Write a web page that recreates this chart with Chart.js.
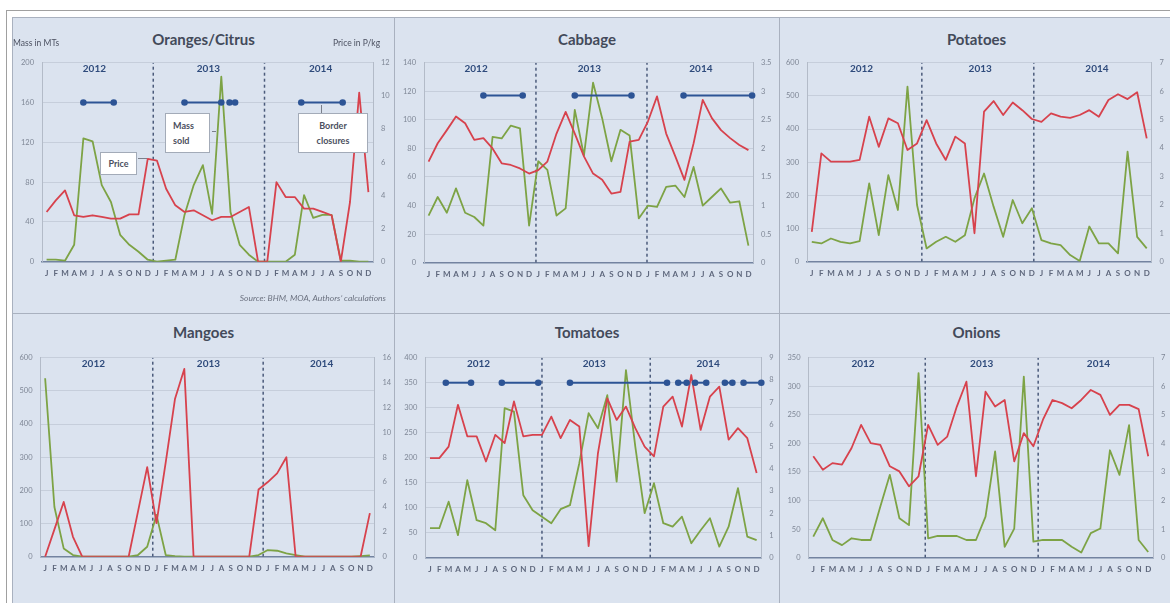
<!DOCTYPE html>
<html>
<head>
<meta charset="utf-8">
<script src="https://cdn.jsdelivr.net/npm/chart.js@4.4.1/dist/chart.umd.min.js"></script>
<style>
  html, body { margin: 0; padding: 0; background: #ffffff; width: 1170px; height: 603px; overflow: hidden; font-family: Lato, "Open Sans", sans-serif; }
  #frame { position: absolute; left: 6px; top: 10px; width: 1180px; height: 610px; border: 1px solid #a0a0a0; box-sizing: border-box; }
  .panel { position: absolute; background: #dbe3ef; border: 1px solid #a9b1bf; box-sizing: border-box; }
  .title { position: absolute; left: 0; right: 0; text-align: center; font-weight: bold; font-size: 15px; line-height: 18px; color: #434a5a; }
  canvas { position: absolute; }
  .cap { position: absolute; font-size: 8.5px; line-height: 10px; color: #4b5060; white-space: nowrap; }
  .src { position: absolute; font-size: 8.5px; line-height: 10px; font-style: italic; color: #6c7280; white-space: nowrap; text-align: right; }
  .note { position: absolute; background: #ffffff; border: 1px solid #a3abb8; box-sizing: border-box; font-size: 9px; font-weight: bold; line-height: 15px; color: #4b5060; }
  .lead { position: absolute; background: #7a7f8a; }
</style>
</head>
<body>
<div id="frame"></div>
<div id="root"></div>
<script>
// Month initials on the category axis and year captions
const MONTHS = ['J','F','M','A','M','J','J','A','S','O','N','D'];
const YEARS = ['2012', '2013', '2014'];
const YEAR_POS = [5.2, 17.6, 29.8];

// Oranges/Citrus: mass sold (MTs) and price (P/kg), Jan 2012 - Dec 2014
const orangesMass  = [2,2,1,17,124,121,77,60,27,17,10,2, 0,1,2,47,77,97,48,186,50,17,7,0, 0,0,0,7,67,44,47,47,1,1,0,0];
const orangesPrice = [3.0,3.7,4.3,2.8,2.7,2.8,2.7,2.6,2.6,2.85,2.85,6.2, 6.1,4.4,3.4,3.0,3.1,2.8,2.5,2.7,2.7,3.0,3.3,0, 0,4.8,3.9,3.9,3.2,3.2,3.0,2.8,0,3.6,10.2,4.2];
const orangesBreaks = [11.6, 23.7];
const orangesClosures = [[4, 7.3], [15, 19], [19.9, 20.5], [27.7, 32.2]];
const orangesClosureLevel = 160;

// Cabbage
const cabbageMass  = [33,46,35,52,35,32,26,88,87,96,94,26, 71,65,33,38,107,75,126,101,71,93,89,31, 40,39,53,54,46,67,40,46,52,42,43,12];
const cabbagePrice = [1.77,2.09,2.32,2.56,2.44,2.15,2.18,2.0,1.74,1.71,1.65,1.56, 1.62,1.77,2.26,2.64,2.26,1.86,1.56,1.45,1.21,1.24,2.12,2.15, 2.47,2.91,2.26,1.86,1.45,2.09,2.85,2.53,2.32,2.18,2.06,1.97];
const cabbageBreaks = [11.75, 23.9];
const cabbageClosures = [[6, 10.3], [16, 22.2], [27.9, 35.4]];
const cabbageClosureLevel = 117;

// Potatoes
const potatoesMass  = [60,55,70,60,55,62,236,80,261,156,528,171, 40,60,75,60,80,191,266,166,75,186,116,161, 65,55,50,20,2,106,55,55,25,332,75,40];
const potatoesPrice = [1.05,3.81,3.52,3.52,3.52,3.58,5.10,4.04,5.04,4.87,3.93,4.16, 4.98,4.16,3.58,4.40,4.16,1.0,5.28,5.65,5.16,5.60,5.33,5.02, 4.92,5.22,5.10,5.06,5.16,5.33,5.10,5.69,5.89,5.72,5.96,4.34];
const potatoesBreaks = [11.5, 23.2];

// Mangoes
const mangoesMass  = [538,150,25,5,0,0,0,0,0,0,5,30, 126,5,2,0,0,0,0,0,0,0,0,5, 20,18,10,5,0,0,0,0,0,0,2,4];
const mangoesPrice = [0,2.2,4.4,1.6,0,0,0,0,0,0,3.6,7.2, 2.7,7.6,12.7,15.1,0,0,0,0,0,0,0,5.4, 6.0,6.7,8.0,0,0,0,0,0,0,0,0,3.5];
const mangoesBreaks = [11.6, 23.5];

// Tomatoes
const tomatoesMass  = [59,59,112,45,155,75,69,55,299,292,125,95, 82,69,97,105,189,289,259,325,152,375,222,89, 149,69,62,82,29,55,79,22,62,139,42,35];
const tomatoesPrice = [4.48,4.48,5.0,6.88,5.46,5.46,4.33,5.53,5.16,7.03,5.46,5.53, 5.53,6.35,5.38,6.20,5.90,0.52,4.71,7.17,6.20,6.80,5.83,5.0, 4.56,6.80,7.25,5.90,8.22,5.75,7.25,7.70,5.31,5.83,5.38,3.81];
const tomatoesBreaks = [12, 23.6];
const tomatoesClosures = [[1.7, 4.4], [7.7, 11.6], [15, 25.4], [26.6, 27.5], [28.4, 29.6], [31.6, 32.4], [33.6, 35.5]];
const tomatoesClosureLevel = 350;

// Onions
const onionsMass  = [37,69,31,22,34,31,31,89,145,69,57,323, 34,38,38,38,31,31,72,186,19,51,317,28, 31,31,31,19,9,43,51,188,145,232,31,10];
const onionsPrice = [3.55,3.08,3.31,3.26,3.84,4.65,4.01,3.95,3.20,3.02,2.50,2.85, 4.65,3.95,4.24,5.29,6.16,2.85,5.81,5.29,5.52,3.37,4.36,3.90, 4.83,5.52,5.41,5.23,5.52,5.87,5.70,5.0,5.35,5.35,5.20,3.55];
const onionsBreaks = [11.7, 23.5];

const RED = '#d7424d';
const GREEN = '#7da345';
const BLUE = '#2d5495';
const DASH = '#4b5b7b';

// Axis box sizes; the right one shrinks where the panel edge is close
const WL = 26, WR_MAX = 24, HX = 20;

const PANELS = [
  { title: 'Oranges/Citrus', box: [12, 17, 383, 297], plot: [42, 62.7, 373, 261.7],
    mass: orangesMass, price: orangesPrice, massMax: 200, massStep: 40, priceMax: 12, priceStep: 2,
    breaks: orangesBreaks, closures: orangesClosures, level: orangesClosureLevel },
  { title: 'Cabbage', box: [394, 17, 386, 297], plot: [424, 62.7, 753, 262.7],
    mass: cabbageMass, price: cabbagePrice, massMax: 140, massStep: 20, priceMax: 3.5, priceStep: 0.5,
    breaks: cabbageBreaks, closures: cabbageClosures, level: cabbageClosureLevel },
  { title: 'Potatoes', box: [779, 17, 395, 297], plot: [807, 62.7, 1151.5, 261.7],
    mass: potatoesMass, price: potatoesPrice, massMax: 600, massStep: 100, priceMax: 7, priceStep: 1,
    breaks: potatoesBreaks, closures: [], level: 0 },
  { title: 'Mangoes', box: [12, 313, 383, 295], plot: [40.5, 357.7, 374.5, 556.7],
    mass: mangoesMass, price: mangoesPrice, massMax: 600, massStep: 100, priceMax: 16, priceStep: 2,
    breaks: mangoesBreaks, closures: [], level: 0 },
  { title: 'Tomatoes', box: [394, 313, 386, 295], plot: [425.3, 357.7, 761.3, 557.7],
    mass: tomatoesMass, price: tomatoesPrice, massMax: 400, massStep: 50, priceMax: 9, priceStep: 1,
    breaks: tomatoesBreaks, closures: tomatoesClosures, level: tomatoesClosureLevel },
  { title: 'Onions', box: [779, 313, 395, 295], plot: [808.5, 357.7, 1153, 557.7],
    mass: onionsMass, price: onionsPrice, massMax: 350, massStep: 50, priceMax: 7, priceStep: 1,
    breaks: onionsBreaks, closures: [], level: 0 }
];

Chart.defaults.font.family = 'Lato, "Open Sans", sans-serif';

// Year captions written across the top of each plot
const yearLabels = {
  id: 'yearLabels',
  beforeDatasetsDraw(chart) {
    const { ctx, chartArea, scales: { x } } = chart;
    ctx.save();
    ctx.font = 'bold 10px Lato, "Open Sans", sans-serif';
    ctx.fillStyle = '#2f4b7c';
    ctx.textAlign = 'center';
    ctx.textBaseline = 'middle';
    YEARS.forEach((yr, k) => ctx.fillText(yr, x.getPixelForValue(YEAR_POS[k]), chartArea.top + 6.5));
    ctx.restore();
  }
};

const root = document.getElementById('root');
const toPoints = values => values.map((v, i) => ({ x: i, y: v }));

PANELS.forEach(p => {
  const [bx, by, bw, bh] = p.box;
  const panel = document.createElement('div');
  panel.className = 'panel';
  Object.assign(panel.style, { left: bx + 'px', top: by + 'px', width: bw + 'px', height: bh + 'px' });
  const t = document.createElement('div');
  t.className = 'title';
  t.style.top = (by < 100 ? 12 : 9) + 'px';
  t.textContent = p.title;
  panel.appendChild(t);
  root.appendChild(panel);

  const cx = bx + 1, cy = by + 1;
  const cw = Math.min(bw - 2, 1170 - cx), ch = Math.min(bh - 2, 603 - cy);
  const canvas = document.createElement('canvas');
  canvas.width = cw; canvas.height = ch;
  Object.assign(canvas.style, { left: cx + 'px', top: cy + 'px', width: cw + 'px', height: ch + 'px' });
  root.appendChild(canvas);

  const [L, T, R, B] = p.plot;
  const WR = Math.min(WR_MAX, cx + cw - R);
  const padding = { left: L - cx - WL, right: cx + cw - R - WR, top: T - cy, bottom: cy + ch - B - HX };

  const datasets = [];
  p.closures.forEach(seg => datasets.push({
    data: seg.map(x => ({ x, y: p.level })), yAxisID: 'y', order: 0, clip: false,
    borderColor: BLUE, backgroundColor: BLUE, borderWidth: 2, pointRadius: 3.3, pointBorderWidth: 0
  }));
  datasets.push({ data: toPoints(p.price), yAxisID: 'y2', order: 1, borderColor: RED, borderWidth: 1.8, pointRadius: 0, borderJoinStyle: 'round' });
  datasets.push({ data: toPoints(p.mass), yAxisID: 'y', order: 2, borderColor: GREEN, borderWidth: 1.8, pointRadius: 0, borderJoinStyle: 'round' });
  p.breaks.forEach(b => datasets.push({
    data: [{ x: b, y: 0 }, { x: b, y: p.massMax }], yAxisID: 'y', order: 3,
    borderColor: DASH, borderWidth: 1.5, borderDash: [3, 3], pointRadius: 0
  }));

  new Chart(canvas, {
    type: 'line',
    data: { datasets },
    plugins: [yearLabels],
    options: {
      responsive: false, animation: false, devicePixelRatio: 1, events: [],
      layout: { padding },
      plugins: { legend: { display: false }, tooltip: { enabled: false } },
      scales: {
        x: {
          type: 'linear', min: -0.5, max: 35.5, bounds: 'data',
          afterBuildTicks: s => { s.ticks = p.mass.map((_, i) => ({ value: i })); },
          afterFit: s => { s.height = HX; },
          ticks: { autoSkip: false, maxRotation: 0, padding: 7, color: '#5e677c',
                   font: { size: 8, weight: 'bold' }, callback: v => MONTHS[v % 12] },
          grid: { display: false, drawTicks: false },
          border: { display: true, color: '#7383a0', width: 1.5 }
        },
        y: {
          position: 'left', min: 0, max: p.massMax,
          afterFit: s => { s.width = WL; },
          ticks: { stepSize: p.massStep, padding: 8, color: '#7f8796', font: { size: 7.5 }, callback: v => String(v) },
          grid: { color: '#c6cedb', lineWidth: 1, drawTicks: false },
          border: { color: '#b3bbc8', width: 1 }
        },
        y2: {
          position: 'right', min: 0, max: p.priceMax,
          afterFit: s => { s.width = WR; },
          ticks: { stepSize: p.priceStep, padding: 8, color: '#7f8796', font: { size: 7.5 }, callback: v => String(v) },
          grid: { display: false, drawTicks: false },
          border: { color: '#b3bbc8', width: 1 }
        }
      }
    }
  });
});

// Captions, callouts and source note of the citrus panel
function addEl(cls, html, style) {
  const d = document.createElement('div');
  d.className = cls;
  d.innerHTML = html;
  Object.assign(d.style, style);
  root.appendChild(d);
}
addEl('cap', 'Mass in MTs', { left: '13px', top: '38px' });
addEl('cap', 'Price in P/kg', { left: '333px', top: '38px' });
addEl('src', 'Source: BHM, MOA, Authors\u2019 calculations', { left: '200px', width: '186px', top: '293px' });
addEl('note', 'Price', { left: '100px', top: '152px', width: '37px', height: '23px', textAlign: 'center', lineHeight: '21px' });
addEl('note', 'Mass<br>sold', { left: '165px', top: '113px', width: '45px', height: '40px', paddingLeft: '7px', paddingTop: '4px' });
addEl('note', 'Border<br>closures', { left: '298px', top: '113px', width: '70px', height: '40px', textAlign: 'center', paddingTop: '4px' });
addEl('lead', '', { left: '138px', top: '158px', width: '9px', height: '1px' });
addEl('lead', '', { left: '212px', top: '131px', width: '4px', height: '1px' });
addEl('lead', '', { left: '321px', top: '105px', width: '1px', height: '8px' });
</script>
</body>
</html>
